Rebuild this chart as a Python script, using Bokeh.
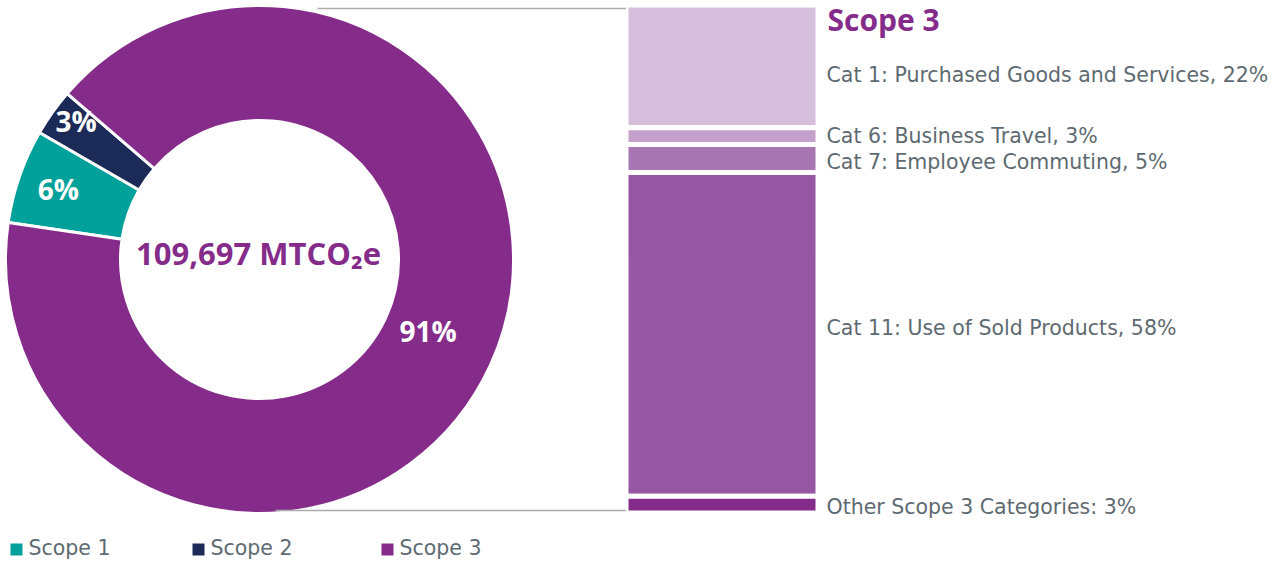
import numpy as np
from bokeh.plotting import figure
from bokeh.models import Range1d
from bokeh.embed import file_html
from bokeh.resources import INLINE
from bokeh.core.properties import value

# ---------------- data ----------------
scopes = ["Scope 1", "Scope 2", "Scope 3"]
scope_pct = [6, 3, 91]
scope_labels = ["6%", "3%", "91%"]
scope_colors = ["#00A19A", "#1B2A56", "#852C8B"]
total_label = "109,697 MTCO₂e"

cat_names = ["Cat 1: Purchased Goods and Services, 22%",
             "Cat 6: Business Travel, 3%",
             "Cat 7: Employee Commuting, 5%",
             "Cat 11: Use of Sold Products, 58%",
             "Other Scope 3 Categories: 3%"]
cat_pct = [22, 3, 5, 58, 3]
cat_colors = ["#D5BFDD", "#C5A0CC", "#A877B2", "#9657A2", "#852C8B"]
bar_title = "Scope 3"

# ---------------- layout ----------------
W, H = 1274, 561
FONT = "Open Sans"
LFONT = "DejaVu Sans"
GRAY = "#5E6A71"

def Y(sy):
    return H - sy

p = figure(width=W, height=H, x_range=Range1d(0, W), y_range=Range1d(0, H),
           output_backend="svg", toolbar_location=None,
           x_axis_location=None, y_axis_location=None, min_border=0)
p.outline_line_color = None
p.grid.visible = False
p.background_fill_color = "white"

# donut
cx, cy = 259, Y(259)
r_in, r_out = 139, 254
start0 = np.deg2rad(171.6)
pct = np.array(scope_pct, dtype=float)
cum = np.concatenate([[0], np.cumsum(pct)])
starts = start0 - cum[:-1] / cum[-1] * 2 * np.pi
ends = start0 - cum[1:] / cum[-1] * 2 * np.pi
p.annular_wedge(x=cx, y=cy, inner_radius=r_in, outer_radius=r_out,
                start_angle=list(starts), end_angle=list(ends), direction="clock",
                fill_color=scope_colors, line_color="white", line_width=3)

mids = (starts + ends) / 2
lab_r = [213, 230, 183]
lab_da = [0.0, -0.03, 0.03]
lx = [cx + r * np.cos(a + d) for r, a, d in zip(lab_r, mids, lab_da)]
ly = [cy + r * np.sin(a + d) for r, a, d in zip(lab_r, mids, lab_da)]
p.text(x=lx, y=ly, text=scope_labels, text_color="white", text_font=value(FONT),
       text_font_style="bold", text_font_size="28px", text_align="center",
       text_baseline="middle")

p.text(x=[cx - 1], y=[Y(252)], text=[total_label], text_color="#852C8B",
       text_font=value(FONT), text_font_style="bold", text_font_size="31px",
       text_align="center", text_baseline="middle")

# stacked bar
bx0, bx1 = 625.5, 817.5
btop, bbot = 4.5, 512.5
k = (bbot - btop) / sum(cat_pct)
ccum = np.concatenate([[0], np.cumsum(cat_pct)])
tops = [Y(btop + c * k) for c in ccum[:-1]]
bots = [Y(btop + c * k) for c in ccum[1:]]
p.quad(left=bx0, right=bx1, top=tops, bottom=bots, fill_color=cat_colors,
       line_color="white", line_width=5)

# connectors
p.segment(x0=[317, 275], y0=[Y(8), Y(510)], x1=[bx0, bx0], y1=[Y(8), Y(510)],
          line_color="#ABABAB", line_width=1.5)

# bar labels
offs = [9, 0, 3, -6, 2]
cy_lab = [(t + b) / 2 - o for t, b, o in zip(tops, bots, offs)]
p.text(x=[826] * len(cat_names), y=cy_lab, text=cat_names, text_color=GRAY,
       text_font=value(LFONT), text_font_size="20.5px", text_align="left",
       text_baseline="middle")
p.text(x=[827], y=[Y(19)], text=[bar_title], text_color="#852C8B",
       text_font=value(FONT), text_font_style="bold", text_font_size="30px",
       text_align="left", text_baseline="middle")

# legend
leg_x = [10, 192, 381]
p.rect(x=[x + 6 for x in leg_x], y=[Y(549)] * 3, width=12, height=12,
       fill_color=scope_colors, line_color=None)
p.text(x=[x + 18 for x in leg_x], y=[Y(547)] * 3, text=scopes, text_color=GRAY,
       text_font=value(LFONT), text_font_size="20.5px", text_align="left",
       text_baseline="middle")

open("out.html", "w").write(file_html(p, INLINE))
